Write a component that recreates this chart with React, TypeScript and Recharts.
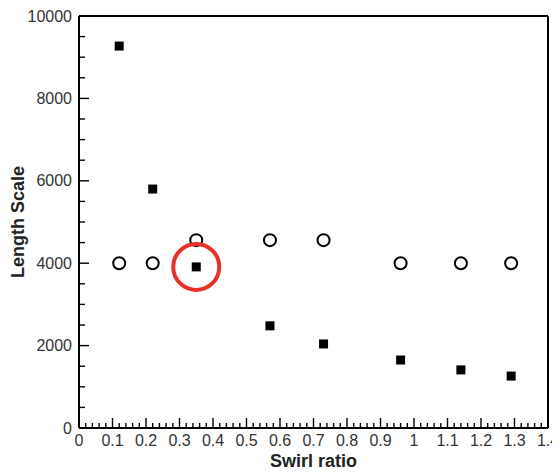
import React from 'react';
import { ScatterChart, Scatter, XAxis, YAxis } from 'recharts';

// swirl ratio of each case
const swirl = [0.12, 0.22, 0.35, 0.57, 0.73, 0.96, 1.14, 1.29];
// r_c,max,D / r_c,max,S
const radialRatio = [9270, 5800, 3910, 2480, 2040, 1650, 1410, 1260];
// z_max,D / z_max,S
const axialRatio = [4000, 4000, 4560, 4560, 4560, 4000, 4000, 4000];
// case picked out with a red ring
const highlightIndex = 2;

const xMajorTicks = [0, 0.1, 0.2, 0.3, 0.4, 0.5, 0.6, 0.7, 0.8, 0.9, 1, 1.1, 1.2, 1.3, 1.4];
const xTickLabels = ['0', '0.1', '0.2', '0.3', '0.4', '0.5', '0.6', '0.7', '0.8', '0.9', '1', '1.1', '1.2', '1.3', '1.4'];
const yMajorTicks = [0, 2000, 4000, 6000, 8000, 10000];
const yTickLabels = ['0', '2000', '4000', '6000', '8000', '10000'];

const xTitle = 'Swirl ratio';
const yTitle = 'Length Scale';
// tick values the titles and legend are hung from (axis midpoints, upper right)
const xTitleAt = 0.7;
const yTitleAt = 5000;
const legendAt = 1;

const FONT = 'Liberation Sans, Arial, sans-serif';

// majors plus evenly spaced minor ticks between them
const withMinors = (majors: number[], parts: number) => {
  const out: number[] = [];
  majors.forEach((m, i) => {
    out.push(m);
    if (i < majors.length - 1) {
      const step = (majors[i + 1] - m) / parts;
      for (let k = 1; k < parts; k++) out.push(Math.round((m + k * step) * 1000) / 1000);
    }
  });
  return out;
};

const xTicks = withMinors(xMajorTicks, 5);
const yTicks = withMinors(yMajorTicks, 4);

const same = (a: number, b: number) => Math.abs(a - b) < 1e-6;
const majorIndex = (list: number[], v: number) => list.findIndex((t) => same(t, v));

const radialData = swirl.map((s, i) => ({ swirl: s, value: radialRatio[i] }));
const axialData = swirl.map((s, i) => ({ swirl: s, value: axialRatio[i] }));
const highlightData = [{ swirl: swirl[highlightIndex], value: radialRatio[highlightIndex] }];

// ticks point into the plot box on all four sides
const BottomTick = ({ x, y, payload }: any) => {
  const idx = majorIndex(xMajorTicks, payload.value);
  const major = idx >= 0;
  return (
    <g>
      <line x1={x} x2={x} y1={y} y2={y - (major ? 10 : 5)} stroke="black" strokeWidth={1.4} />
      {major && (
        <text x={x} y={y + 18} textAnchor="middle" fontSize={16} fill="#333" fontFamily={FONT}>
          {xTickLabels[idx]}
        </text>
      )}
      {same(payload.value, xTitleAt) && (
        <text x={x} y={y + 39} textAnchor="middle" fontSize={18} fontWeight="bold" fill="#222" fontFamily={FONT}>
          {xTitle}
        </text>
      )}
    </g>
  );
};

const LegendBlock = ({ x, y }: any) => (
  <g fontFamily={FONT} fontWeight="bold" fill="#222">
    <rect x={x - 33} y={y + 33} width={9} height={9} fill="black" />
    <text x={x + 21} y={y + 46} fontSize={17}>
      r<tspan fontSize={10.5} dy={2}>c,max,D</tspan>
      <tspan dy={-2}>/r</tspan>
      <tspan fontSize={10.5} dy={2}>c,max,S</tspan>
    </text>
    <circle cx={x - 28} cy={y + 56} r={6} fill="white" stroke="black" strokeWidth={2} />
    <text x={x + 21} y={y + 63} fontSize={16}>
      z<tspan fontSize={10.5} dy={3}>max,D</tspan>
      <tspan dy={-3}>/z</tspan>
      <tspan fontSize={10.5} dy={3}>max,S</tspan>
    </text>
  </g>
);

const TopTick = ({ x, y, payload }: any) => {
  const major = majorIndex(xMajorTicks, payload.value) >= 0;
  return (
    <g>
      <line x1={x} x2={x} y1={y} y2={y + (major ? 10 : 5)} stroke="black" strokeWidth={1.4} />
      {same(payload.value, legendAt) && <LegendBlock x={x} y={y} />}
    </g>
  );
};

const LeftTick = ({ x, y, payload }: any) => {
  const idx = majorIndex(yMajorTicks, payload.value);
  const major = idx >= 0;
  const tx = x - 55;
  return (
    <g>
      <line x1={x} x2={x + (major ? 10 : 6)} y1={y} y2={y} stroke="black" strokeWidth={1.4} />
      {major && (
        <text x={x - 7} y={y + 5.5} textAnchor="end" fontSize={16} fill="#333" fontFamily={FONT}>
          {yTickLabels[idx]}
        </text>
      )}
      {same(payload.value, yTitleAt) && (
        <text
          x={tx}
          y={y}
          transform={`rotate(-90 ${tx} ${y})`}
          textAnchor="middle"
          fontSize={18}
          fontWeight="bold"
          fill="#222"
          fontFamily={FONT}
        >
          {yTitle}
        </text>
      )}
    </g>
  );
};

const RightTick = ({ x, y, payload }: any) => {
  const major = majorIndex(yMajorTicks, payload.value) >= 0;
  return (
    <g>
      <line x1={x} x2={x - (major ? 10 : 6)} y1={y} y2={y} stroke="black" strokeWidth={1.4} />
    </g>
  );
};

const Square = ({ cx, cy }: any) => <rect x={cx - 4.5} y={cy - 4.5} width={9} height={9} fill="black" />;
const Ring = ({ cx, cy }: any) => <circle cx={cx} cy={cy} r={6} fill="white" stroke="black" strokeWidth={2} />;
const RedRing = ({ cx, cy }: any) => <circle cx={cx} cy={cy} r={23} fill="none" stroke="#e8302a" strokeWidth={4} />;

export default function App() {
  return (
    <div style={{ marginLeft: -8, marginTop: -8, width: 560, height: 474 }}>
      <ScatterChart width={560} height={474} margin={{ top: 15, right: 2, bottom: 0, left: 0 }}>
        <XAxis
          type="number"
          dataKey="swirl"
          domain={[0, 1.4]}
          ticks={xTicks}
          interval={0}
          height={46}
          tickSize={0}
          tickMargin={0}
          tickLine={false}
          axisLine={{ stroke: 'black', strokeWidth: 2 }}
          tick={<BottomTick />}
        />
        <XAxis
          xAxisId="top"
          orientation="top"
          type="number"
          domain={[0, 1.4]}
          ticks={xTicks}
          interval={0}
          height={1}
          tickSize={0}
          tickMargin={0}
          tickLine={false}
          axisLine={{ stroke: 'black', strokeWidth: 2 }}
          tick={<TopTick />}
        />
        <YAxis
          type="number"
          dataKey="value"
          domain={[0, 10000]}
          ticks={yTicks}
          interval={0}
          width={79}
          tickSize={0}
          tickMargin={0}
          tickLine={false}
          axisLine={{ stroke: 'black', strokeWidth: 2 }}
          tick={<LeftTick />}
        />
        <YAxis
          yAxisId="right"
          orientation="right"
          type="number"
          domain={[0, 10000]}
          ticks={yTicks}
          interval={0}
          width={10}
          tickSize={0}
          tickMargin={0}
          tickLine={false}
          axisLine={{ stroke: 'black', strokeWidth: 2 }}
          tick={<RightTick />}
        />
        <Scatter data={radialData} shape={<Square />} isAnimationActive={false} />
        <Scatter data={axialData} shape={<Ring />} isAnimationActive={false} />
        <Scatter data={highlightData} shape={<RedRing />} isAnimationActive={false} />
      </ScatterChart>
    </div>
  );
}
